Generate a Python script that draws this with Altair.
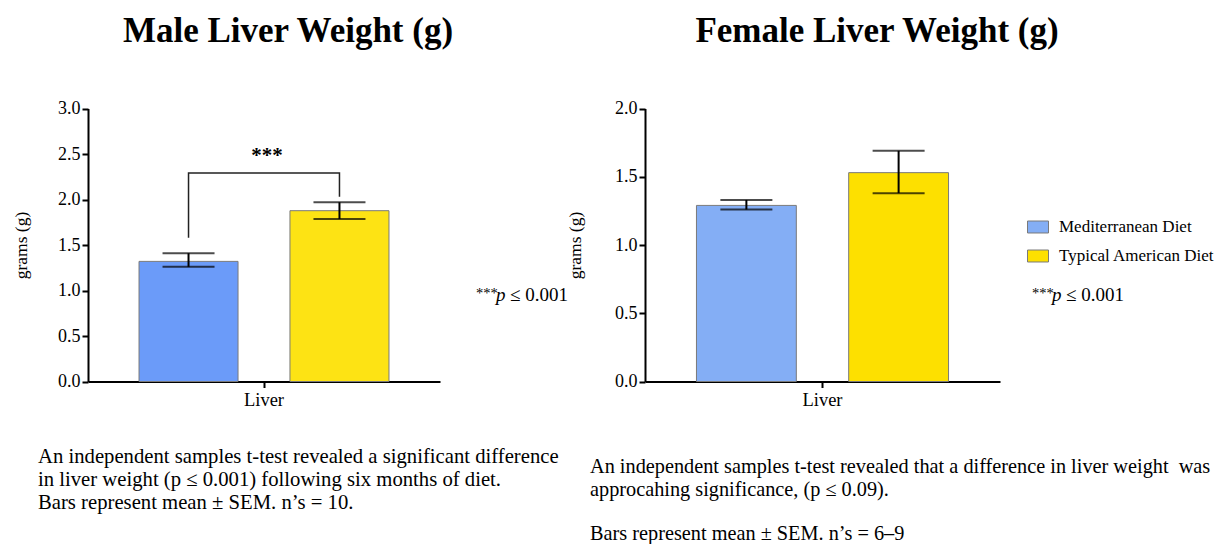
import altair as alt
import pandas as pd

FONT = "Liberation Serif"

group = ["Liver"]
diets = ["Mediterranean Diet", "Typical American Diet"]
male_mean = [1.32, 1.877]
male_low = [1.26, 1.785]
male_high = [1.41, 1.97]
female_mean = [1.29, 1.53]
female_low = [1.26, 1.38]
female_high = [1.33, 1.69]
male_colors = ["#6b9bf9", "#fde314"]
female_colors = ["#84aef5", "#fde000"]
bracket_values = [1.58, 2.29, 2.29, 2.03]
bracket_diets = [diets[0], diets[0], diets[1], diets[1]]
male_ticks = [0, 0.5, 1.0, 1.5, 2.0, 2.5, 3.0]
female_ticks = [0, 0.5, 1.0, 1.5, 2.0]
titles = ["Male Liver Weight (g)", "Female Liver Weight (g)"]
y_title = "grams (g)"
sig_parts = ["***", "p", "\u2264 0.001"]
bracket_label = "***"
male_caption = [
    "An independent samples t-test revealed a significant difference",
    "in liver weight (p \u2264 0.001) following six months of diet.",
    "Bars represent mean \u00b1 SEM. n\u2019s = 10.",
]
female_caption = [
    "An independent samples t-test revealed that a difference in liver weight\u00a0 was",
    "approcahing significance, (p \u2264 0.09).",
]
female_caption_last = "Bars represent mean \u00b1 SEM. n\u2019s = 6\u20139"

male = pd.DataFrame({"group": group * 2, "diet": diets, "mean": male_mean,
                     "low": male_low, "high": male_high})
female = pd.DataFrame({"group": group * 2, "diet": diets, "mean": female_mean,
                       "low": female_low, "high": female_high})
bracket = pd.DataFrame({"group": group * 4, "diet": bracket_diets,
                        "value": bracket_values, "order": [0, 1, 2, 3]})

W, H = 1210, 536
Y_RANGE = [373.5, 100.5]
AX_OFFSET_X = Y_RANGE[0] - H


def panel(df, x_range, y_domain, y_ticks, colors, title_x, legend, with_bracket):
    xs = alt.Scale(type="band", domain=group, range=x_range, paddingInner=0, paddingOuter=0)
    xos = alt.Scale(type="band", domain=diets, paddingInner=0.344, paddingOuter=0.338)
    ys = alt.Scale(domain=y_domain, range=Y_RANGE, nice=False, zero=True)
    x_axis = alt.Axis(orient="bottom", offset=AX_OFFSET_X, title=None, labelAngle=0,
                      domainColor="black", domainWidth=2, tickColor="black", tickWidth=2,
                      tickSize=6, labelFont=FONT, labelFontSize=18.5, labelColor="black",
                      labelPadding=3, grid=False)
    y_axis = alt.Axis(orient="left", offset=-x_range[0], values=y_ticks, format=".1f",
                      title=y_title, titleX=title_x, titleBaseline="middle",
                      titleFont=FONT, titleFontSize=17.5, titleFontWeight="normal",
                      titleColor="black", domainColor="black", domainWidth=2,
                      tickColor="black", tickWidth=2, tickSize=6, labelFont=FONT,
                      labelFontSize=18, labelColor="black", labelPadding=2, grid=False)
    xo = alt.XOffset("diet:N", scale=xos)
    bars = alt.Chart(df).mark_bar(stroke="#7a7a7a", strokeWidth=1).encode(
        x=alt.X("group:N", scale=xs, axis=x_axis),
        xOffset=xo,
        y=alt.Y("mean:Q", scale=ys, axis=y_axis),
        color=alt.Color("diet:N", scale=alt.Scale(domain=diets, range=colors), legend=legend),
    )
    stems = alt.Chart(df).mark_rule(color="black", strokeWidth=2).encode(
        x=alt.X("group:N", scale=xs, axis=None),
        xOffset=xo,
        y=alt.Y("low:Q", scale=ys, axis=None),
        y2="high:Q",
    )
    caps = alt.Chart(df).transform_fold(["low", "high"], as_=["k", "v"]).mark_tick(
        color="black", thickness=2, size=52).encode(
        x=alt.X("group:N", scale=xs, axis=None),
        xOffset=xo,
        y=alt.Y("v:Q", scale=ys, axis=None),
    )
    layers = [bars, stems, caps]
    if with_bracket:
        br = alt.Chart(bracket).mark_line(color="#222222", strokeWidth=1.5).encode(
            x=alt.X("group:N", scale=xs, axis=None),
            xOffset=xo,
            y=alt.Y("value:Q", scale=ys, axis=None),
            order="order:Q",
        )
        layers.append(br)
    return layers


def text_layer(txt, x, y, size, weight="normal", style="normal", align="left",
               baseline="alphabetic", line_height=None):
    kw = dict(text=txt, font=FONT, fontSize=size, fontWeight=weight, fontStyle=style,
              align=align, baseline=baseline, color="black")
    if line_height is not None:
        kw["lineHeight"] = line_height
    return alt.Chart(pd.DataFrame({"t": [0]})).mark_text(**kw).encode(
        x=alt.value(x), y=alt.value(y))


legend = alt.Legend(title=None, orient="none", legendX=1019, legendY=208,
                    direction="vertical", symbolType="M-1,-0.571H1V0.571H-1Z",
                    symbolSize=441, symbolStrokeColor="#7a7a7a", symbolStrokeWidth=1,
                    symbolOpacity=1, labelFont=FONT, labelFontSize=17, labelColor="black",
                    labelOffset=10, rowPadding=10, padding=0, labelLimit=300)

layers = []
layers += panel(male, [80, 432], [0, 3], male_ticks, male_colors, -67, None, True)
layers += panel(female, [637, 992], [0, 2], female_ticks, female_colors, -70, legend, False)

layers += [
    text_layer(titles[0], 280, 34, 35, weight="bold", align="center"),
    text_layer(titles[1], 869, 34, 35, weight="bold", align="center"),
    text_layer(bracket_label, 259, 154, 21, weight="bold", align="center"),
    # left significance note
    text_layer(sig_parts[0], 468, 290, 14.5),
    text_layer(sig_parts[1], 488, 293, 19, style="italic"),
    text_layer(sig_parts[2], 502, 293, 19),
    # right significance note
    text_layer(sig_parts[0], 1024, 290, 14.5),
    text_layer(sig_parts[1], 1044, 293, 19, style="italic"),
    text_layer(sig_parts[2], 1058, 293, 19),
    # captions
    text_layer(male_caption, 30, 455, 20.7, line_height=23),
    text_layer(female_caption, 582, 465, 20.3, line_height=23),
    text_layer(female_caption_last, 582, 532, 20.3),
]

chart = alt.layer(*layers).resolve_scale(
    x="independent", y="independent", xOffset="independent", color="independent"
).properties(
    width=W, height=H, padding=0,
    autosize=alt.AutoSizeParams(type="none"),
).configure(font=FONT).configure_view(stroke=None)

chart.save("out.html", embed_options={"renderer": "svg", "actions": False})
